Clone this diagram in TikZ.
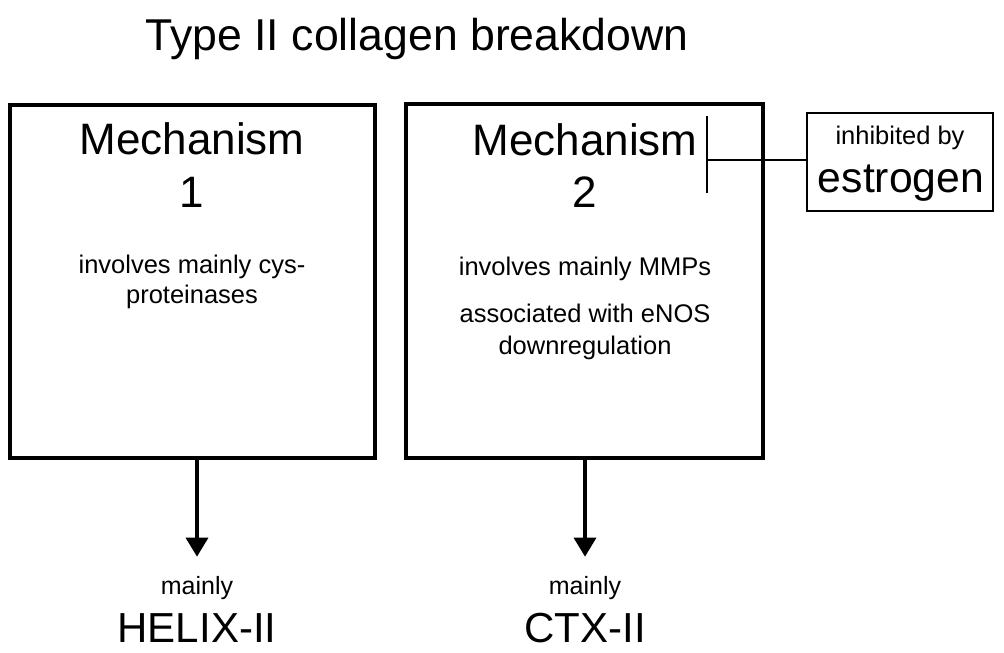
\documentclass[tikz,border=0pt]{standalone}
\usepackage{fontspec}
\setmainfont{Liberation Sans}
\usetikzlibrary{arrows.meta}
\begin{document}
\begin{tikzpicture}[x=1pt,y=-1pt,
  big/.style={inner sep=0pt,anchor=base,font=\fontsize{44}{52}\selectfont},
  small/.style={inner sep=0pt,anchor=base,font=\fontsize{25.5}{30}\selectfont},
  mechbox/.style={draw,line width=3.8pt,inner sep=0pt},
  inhbox/.style={draw,line width=1.3pt,inner sep=0pt,minimum width=186pt,minimum height=98pt},
  arr/.style={line width=3.4pt,-{Triangle[width=22pt,length=19pt]}},
  inh/.style={line width=1.3pt}]
\useasboundingbox (0,0) rectangle (1004,653);
\fill[white] (0,0) rectangle (1004,653);
% title
\node[big,font=\fontsize{44.6}{52}\selectfont] (title) at (417,50) {Type II collagen breakdown};
% boxes
\node[mechbox,minimum width=365pt,minimum height=353pt] (m1) at (192.5,281.5) {};
\node[mechbox,minimum width=357pt,minimum height=354pt] (m2) at (584.5,281) {};
% box 1 text
\node[big] (m1a) at (192,154) {Mechanism};
\node[big] (m1b) at (192,207) {1};
\node[small] (m1c) at (192,273) {involves mainly cys-};
\node[small] (m1d) at (192,303) {proteinases};
% box 2 text
\node[big] (m2a) at (585,155) {Mechanism};
\node[big] (m2b) at (585,207) {2};
\node[small] (m2c) at (585,275) {involves mainly MMPs};
\node[small] (m2d) at (585,322) {associated with eNOS};
\node[small] (m2e) at (585,354) {downregulation};
% estrogen
\node[inhbox] (est) at (900,162) {};
\node[small] (esta) at (900,144) {inhibited by};
\node[big,font=\fontsize{42.7}{50}\selectfont] (estb) at (901,192) {estrogen};
\coordinate (bar) at (707,160);
\draw[inh] (bar -| est.west) -- (bar);
\draw[inh] ([yshift=-33pt]bar) -- ([yshift=44pt]bar);
% outputs
\node[small,font=\fontsize{25}{30}\selectfont] (o1a) at (197,594) {mainly};
\node[big,font=\fontsize{42}{50}\selectfont] (o1b) at (197,642) {HELIX-II};
\node[small,font=\fontsize{25}{30}\selectfont] (o2a) at (585,594) {mainly};
\node[big,font=\fontsize{42}{50}\selectfont] (o2b) at (585,642) {CTX-II};
\draw[arr,shorten >=19pt] (m1.south -| o1a) -- (o1a.north);
\draw[arr,shorten >=19pt] (m2.south -| o2a) -- (o2a.north);
\end{tikzpicture}
\end{document}
